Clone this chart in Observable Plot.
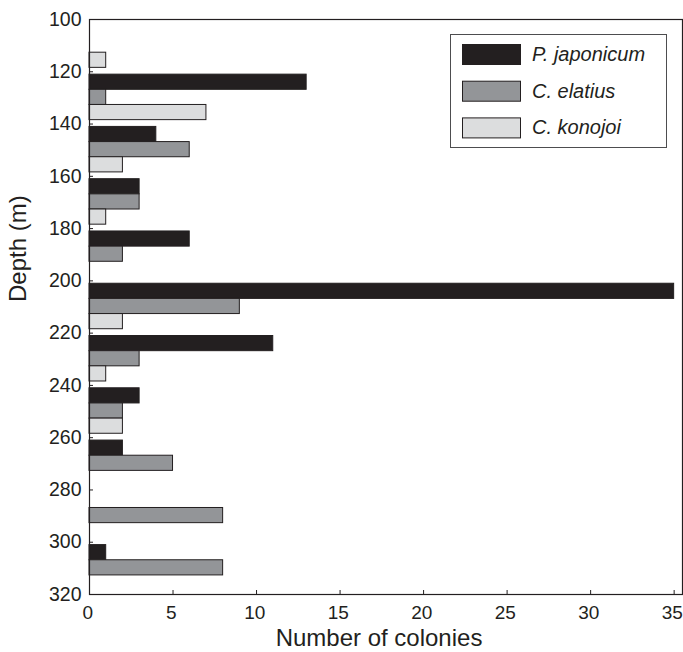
<!DOCTYPE html>
<html><head><meta charset="utf-8">
<script src="https://cdn.jsdelivr.net/npm/d3@7"></script>
<script src="https://cdn.jsdelivr.net/npm/@observablehq/plot@0.6"></script>
<style>body{margin:0;background:#fff}</style>
</head><body><div id="chart"></div>
<script>
const depthBins = [100, 120, 140, 160, 180, 200, 220, 240, 260, 280, 300];
const series = ["P. japonicum", "C. elatius", "C. konojoi"];
const pJaponicum = [0, 13, 4, 3, 6, 35, 11, 3, 2, 0, 1];
const cElatius   = [0, 1, 6, 3, 2, 9, 3, 2, 5, 8, 8];
const cKonojoi   = [1, 7, 2, 1, 0, 2, 1, 2, 0, 0, 0];
const xTicks = [0, 5, 10, 15, 20, 25, 30, 35];
const yTicks = [100, 120, 140, 160, 180, 200, 220, 240, 260, 280, 300, 320];
const colors = ["#231f20", "#939598", "#dcddde"];

const ink = "#231f20";
const seriesValues = [pJaponicum, cElatius, cKonojoi];
const rows = [];
series.forEach((s, i) => depthBins.forEach((d, j) => rows.push({series: s, depth: d, count: seriesValues[i][j]})));
const sub = d3.scaleBand().domain(series).range([1.1, 18.5]);

const plot = Plot.plot({
  width: 683,
  height: 652,
  marginLeft: 89,
  marginRight: 1,
  marginTop: 19,
  marginBottom: 58,
  style: {fontFamily: "'Liberation Sans', Arial, sans-serif", color: ink, background: "#fff"},
  x: {domain: [0, 35.5]},
  y: {domain: [100, 320], reverse: true},
  color: {domain: series, range: colors},
  marks: [
    Plot.rectX(rows.filter(d => d.count > 0), {
      x: "count",
      y1: d => d.depth + sub(d.series),
      y2: d => d.depth + sub(d.series) + sub.bandwidth(),
      fill: "series",
      stroke: ink,
      strokeWidth: 1
    }),
    Plot.axisY(yTicks, {tickSize: 4, dx: 4, text: null, label: null, stroke: ink}),
    Plot.axisY(yTicks, {tickSize: 0, tickPadding: 8, fontSize: 19.5, label: null, fill: ink}),
    Plot.axisX(xTicks, {tickSize: 4, dy: -4, text: null, label: null, stroke: ink}),
    Plot.axisX(xTicks, {tickSize: 0, tickPadding: 11, dx: -1.8, fontSize: 19, label: null, fill: ink}),
    Plot.text(["Depth (m)"], {frameAnchor: "left", dx: -81, dy: -5, rotate: -90, lineAnchor: "top", fontSize: 24, fill: ink}),
    Plot.text(["Number of colonies"], {frameAnchor: "bottom", dx: -7, dy: 34, lineAnchor: "top", fontSize: 24, fill: ink}),
    Plot.frame({stroke: ink, strokeWidth: 1.2})
  ]
});

// legend inside the plot frame
const svg = d3.select(plot);
const lg = svg.append("g").attr("font-family", "'Liberation Sans', Arial, sans-serif").attr("text-anchor", "start");
lg.append("rect").attr("x", 450.5).attr("y", 34.5).attr("width", 216).attr("height", 113)
  .attr("fill", "#fff").attr("stroke", "#4d4d4f").attr("stroke-width", 1);
series.forEach((s, i) => {
  const y = 44 + i * 36.7;
  lg.append("rect").attr("x", 462.5).attr("y", y + 0.5).attr("width", 58).attr("height", 20)
    .attr("fill", colors[i]).attr("stroke", ink).attr("stroke-width", 1);
  lg.append("text").attr("x", 532).attr("y", y + 17).attr("font-size", 20)
    .attr("text-anchor", "start").attr("font-style", "italic").attr("fill", ink).text(s);
});

document.getElementById("chart").append(plot);
</script>
</body></html>
